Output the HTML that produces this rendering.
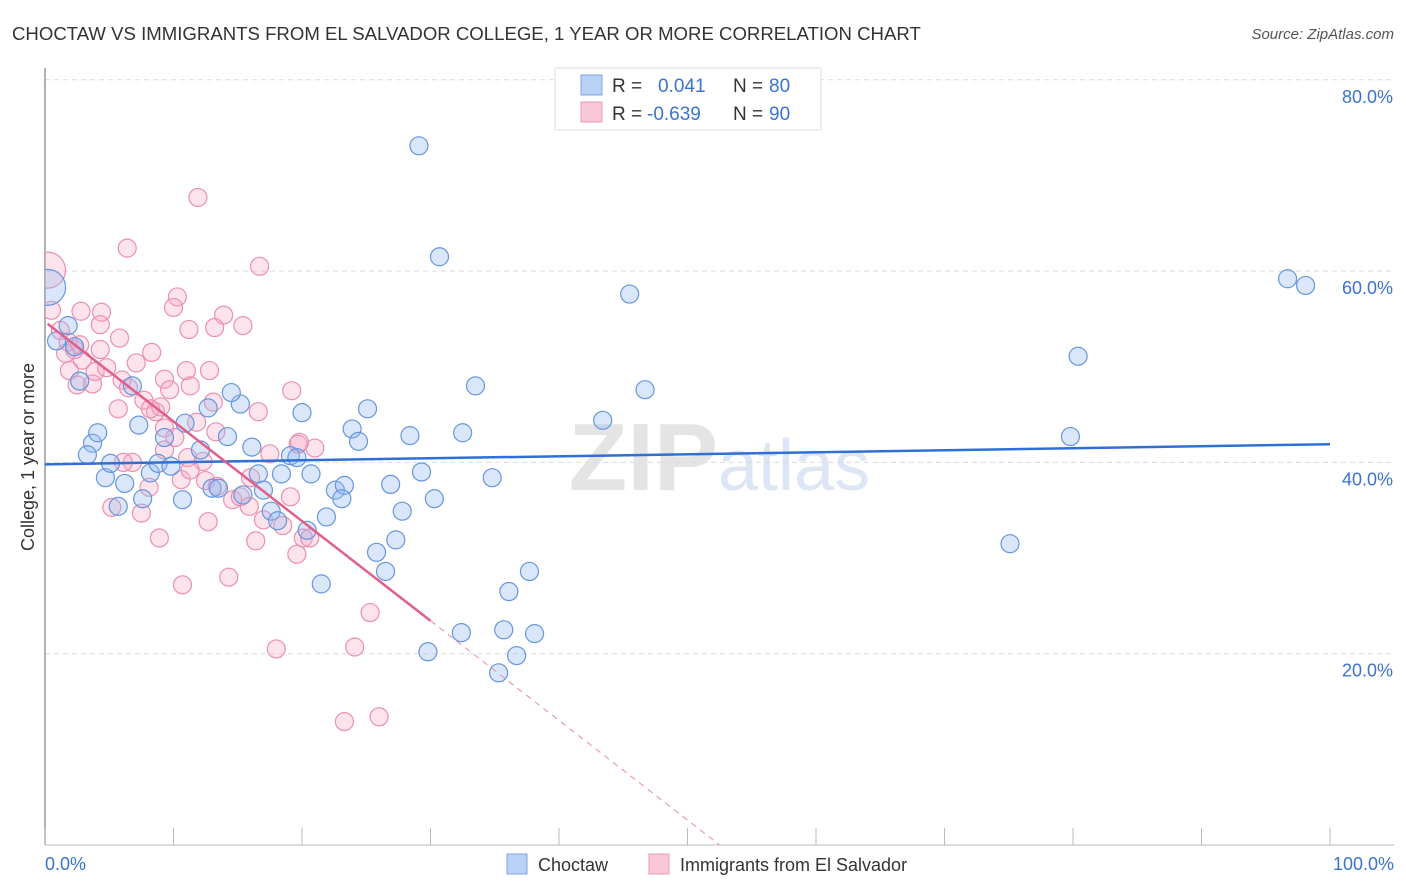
<!DOCTYPE html>
<html><head><meta charset="utf-8"><style>
body{margin:0;background:#fff;font-family:"Liberation Sans",sans-serif;}
#wrap{position:relative;width:1406px;height:892px;overflow:hidden;}
</style></head><body>
<div id="wrap">
<svg id="chart" width="1406" height="892" xmlns="http://www.w3.org/2000/svg">
<defs><clipPath id="plotclip"><rect x="45" y="60" width="1360" height="790"/></clipPath></defs>
<text x="12" y="40" font-size="18.6" fill="#333">CHOCTAW VS IMMIGRANTS FROM EL SALVADOR COLLEGE, 1 YEAR OR MORE CORRELATION CHART</text>
<text x="1394" y="39" font-size="15" fill="#555" text-anchor="end" font-style="italic">Source: ZipAtlas.com</text>
<text x="718" y="490" font-size="96" fill="#e4e4e4" text-anchor="end" font-weight="bold">ZIP</text>
<text x="718" y="490" font-size="72" fill="#dce6f5">atlas</text>
<g id="grid"></g><g id="axes"></g><g id="pts" clip-path="url(#plotclip)"></g><g id="trend"></g>
<text transform="translate(34,457) rotate(-90)" font-size="18" fill="#333" text-anchor="middle">College, 1 year or more</text>
<text x="45" y="870" font-size="18" fill="#3a73d0">0.0%</text>
<text x="1394" y="870" font-size="18" fill="#3a73d0" text-anchor="end">100.0%</text>
<g>
<rect x="555" y="68" width="266" height="62" fill="#fff" stroke="#ddd"/>
<rect x="581" y="75" width="21" height="20" fill="#b8d1f5" stroke="#7aa6e6"/>
<rect x="581" y="102" width="21" height="20" fill="#f9c8d8" stroke="#ee9ab6"/>
<text x="612" y="92" font-size="19" fill="#333">R =</text>
<text x="658" y="92" font-size="19" fill="#3a73d0">0.041</text>
<text x="733" y="92" font-size="19" fill="#333">N =</text>
<text x="769" y="92" font-size="19" fill="#3a73d0">80</text>
<text x="612" y="120" font-size="19" fill="#333">R =</text>
<text x="647" y="120" font-size="19" fill="#3a73d0">-0.639</text>
<text x="733" y="120" font-size="19" fill="#333">N =</text>
<text x="769" y="120" font-size="19" fill="#3a73d0">90</text>
</g>
<g>
<rect x="507" y="854" width="20" height="20" fill="#b8d1f5" stroke="#7aa6e6"/>
<text x="538" y="871" font-size="18" fill="#333">Choctaw</text>
<rect x="649" y="854" width="20" height="20" fill="#f9c8d8" stroke="#ee9ab6"/>
<text x="680" y="871" font-size="18" fill="#333">Immigrants from El Salvador</text>
</g>
</svg>
</div>
<script>
const yTicks=[20,40,60,80];
const yTickLabels=["20.0%","40.0%","60.0%","80.0%"];
const xTicks=[0,10,20,30,40,50,60,70,80,90,100];
const blueX=[29.1,30.7,45.5,96.7,98.1,80.4,79.8,33.5,46.7,43.4,32.5,28.4,25.1,23.9,24.4,20.0,15.2,14.5,12.7,10.9,14.2,16.1,9.3,7.3,6.8,2.7,1.8,0.9,2.3,0.2,3.7,4.1,3.3,4.7,5.1,6.2,5.7,7.6,8.2,8.8,9.8,10.7,12.1,13.0,13.5,15.4,16.6,17.0,17.6,18.1,19.1,19.6,18.4,20.7,20.4,21.9,22.6,23.3,23.1,26.9,27.8,29.3,30.3,25.8,26.5,27.3,21.5,34.8,36.1,37.7,32.4,35.7,38.1,36.7,35.3,29.8,75.1];
const blueY=[73.1,61.5,57.6,59.2,58.5,51.1,42.7,48.0,47.6,44.4,43.1,42.8,45.6,43.5,42.2,45.2,46.1,47.3,45.7,44.1,42.7,41.6,42.6,43.9,48.0,48.5,54.3,52.7,52.1,58.3,42.0,43.1,40.8,38.4,39.9,37.8,35.4,36.2,38.9,39.9,39.6,36.1,41.3,37.3,37.3,36.6,38.8,37.1,34.9,33.9,40.7,40.5,38.8,38.8,32.9,34.3,37.1,37.6,36.2,37.7,34.9,39.0,36.2,30.6,28.6,31.9,27.3,38.4,26.5,28.6,22.2,22.5,22.1,19.8,18.0,20.2,31.5];
const pinkX=[11.9,6.4,16.7,10.3,10.0,2.8,4.4,13.9,15.4,11.2,13.2,4.3,0.2,0.5,1.2,1.8,1.6,2.3,2.9,1.9,2.5,3.7,3.9,4.8,5.8,7.1,8.3,9.3,9.7,11.0,12.8,6.0,6.5,5.7,7.7,8.6,9.0,8.2,9.3,10.1,11.1,12.3,11.8,13.3,13.1,16.6,19.2,19.7,21.0,9.3,6.8,10.6,11.3,12.5,13.4,6.1,8.1,5.2,7.5,8.9,10.7,12.7,14.3,14.6,15.2,16.0,15.9,16.4,17.0,18.5,19.1,19.6,20.1,20.6,18.0,24.1,25.3,23.3,26.0,17.5,19.8,11.3,2.7,4.3];
const pinkY=[67.7,62.4,60.5,57.3,56.2,55.8,55.7,55.4,54.3,53.9,54.1,54.4,60.1,55.9,53.8,52.6,51.4,51.8,50.7,49.6,48.1,48.2,49.5,49.9,53.0,50.4,51.5,48.7,47.6,49.6,49.6,48.6,47.8,45.6,46.5,45.3,45.8,45.6,43.6,42.6,40.5,40.1,44.2,43.2,46.3,45.3,47.5,41.9,41.5,41.3,40.0,38.2,39.2,38.1,37.5,40.0,37.4,35.3,34.7,32.1,27.2,33.8,28.0,36.1,36.4,38.4,35.4,31.8,34.0,33.4,36.4,30.4,32.1,32.1,20.5,20.7,24.3,12.9,13.4,40.9,42.1,48.0,52.3,51.8];
const blueBig=[29]; const pinkBig=[12];
const blueTrend=[39.8,41.9];
const pinkTrend=[54.7,0,30,52.5];
const NS='http://www.w3.org/2000/svg';
const sx=v=>45+v*12.85, sy=v=>845-v*9.565;
function mk(tag,attrs,parent){const e=document.createElementNS(NS,tag);for(const k in attrs)e.setAttribute(k,attrs[k]);parent.appendChild(e);return e;}
const grid=document.getElementById('grid'),axes=document.getElementById('axes'),pts=document.getElementById('pts'),tr=document.getElementById('trend');
yTicks.forEach((t,i)=>{
 const l=mk('line',{x1:45,x2:1394,y1:sy(t),y2:sy(t),stroke:'#dcdcdc','stroke-dasharray':'5,4'},grid);
 
 
 const tx=mk('text',{x:1393,y:sy(t)+23,'font-size':18,fill:'#3a73d0','text-anchor':'end'},grid);
 tx.textContent=yTickLabels[i];
 
 
});
const ya=mk('line',{x1:45,x2:45,y1:68,y2:845,stroke:'#999','stroke-width':1.5},axes);


const xa=mk('line',{x1:45,x2:1394,y1:845,y2:845,stroke:'#bbb'},axes);


xTicks.forEach(t=>{
 const l=mk('line',{x1:sx(t),x2:sx(t),y1:828,y2:845,stroke:'#bbb'},axes);
 
 
});
function drawPts(X,Y,big,fill,stroke,name){
 X.forEach((x,i)=>{
  const c=mk('circle',{cx:sx(x),cy:sy(Y[i]),r:big.includes(i)?18:9,fill:fill,stroke:stroke,'stroke-width':1.2},pts);
  
  
 });
}
drawPts(pinkX,pinkY,pinkBig,'rgba(246,170,196,0.33)','#ec8fb0','point-el-salvador');
drawPts(blueX,blueY,blueBig,'rgba(150,185,240,0.35)','#6696dd','point-choctaw');
const bl=mk('line',{x1:sx(0),x2:sx(100),y1:sy(blueTrend[0]),y2:sy(blueTrend[1]),stroke:'#2f6fd6','stroke-width':2.5},tr);


const slope=(pinkTrend[1]-pinkTrend[0])/pinkTrend[3];
const pl=mk('line',{x1:sx(0.2),x2:sx(pinkTrend[2]),y1:sy(pinkTrend[0]+slope*0.2),y2:sy(pinkTrend[0]+slope*pinkTrend[2]),stroke:'#e0608a','stroke-width':2.5},tr);


const pd=mk('line',{x1:sx(pinkTrend[2]),x2:sx(pinkTrend[3]),y1:sy(pinkTrend[0]+slope*pinkTrend[2]),y2:sy(0),stroke:'#e88aa8','stroke-width':1,'stroke-dasharray':'6,5'},tr);


</script>
</body></html>
